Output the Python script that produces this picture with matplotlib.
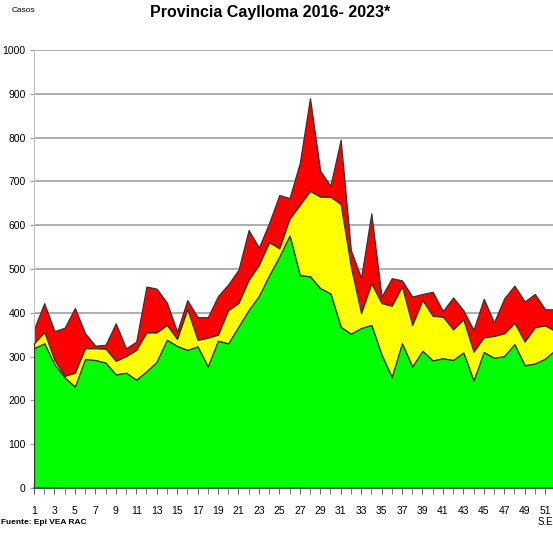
import matplotlib
matplotlib.use("Agg")
import matplotlib.pyplot as plt

# Canal endemico - Provincia Caylloma, semanas epidemiologicas 1-52
weeks = list(range(1, 53))

# limite inferior (zona de exito / verde)
green = [319, 330, 282, 252, 231, 294, 292, 286, 259, 263,
         247, 266, 288, 338, 324, 315, 323, 277, 336, 330,
         368, 406, 438, 485, 528, 576, 486, 483, 456, 444,
         368, 352, 365, 372, 304, 253, 330, 277, 313, 291,
         296, 292, 309, 245, 310, 297, 301, 328, 280, 284,
         295, 315]

# zona de seguridad (amarillo)
yellow = [330, 356, 292, 256, 263, 319, 319, 318, 290, 301,
          315, 355, 355, 372, 340, 408, 338, 343, 350, 406,
          422, 475, 509, 561, 547, 615, 646, 678, 665, 665,
          648, 505, 399, 467, 422, 416, 460, 372, 429, 393,
          391, 362, 385, 311, 344, 347, 353, 377, 334, 367,
          371, 358]

# zona de alarma (rojo)
red = [363, 422, 358, 366, 411, 353, 325, 327, 376, 319,
       334, 460, 455, 423, 357, 429, 390, 390, 438, 465,
       498, 589, 549, 605, 669, 662, 742, 890, 724, 690,
       795, 543, 480, 627, 437, 479, 474, 437, 443, 448,
       404, 435, 406, 361, 432, 378, 433, 462, 426, 443,
       408, 408]

x_labels = [str(w) for w in range(1, 52, 2)]
y_ticks = list(range(0, 1001, 100))

narrow = ["Liberation Sans Narrow", "Liberation Sans", "DejaVu Sans"]

fig = plt.figure(figsize=(5.53, 5.35), dpi=100)
ax = fig.add_axes([34 / 553, 47 / 535, 521.3 / 553, 438 / 535])

for v in y_ticks[1:]:
    ax.axhline(v, color="#a8a8a8", lw=1.3, zorder=0)

ax.fill_between(weeks, yellow, red, facecolor="#ff0000", edgecolor="#333333", lw=0.9, zorder=2)
ax.fill_between(weeks, green, yellow, facecolor="#ffff00", edgecolor="#333333", lw=0.9, zorder=3)
ax.fill_between(weeks, 0, green, facecolor="#00ff00", edgecolor="#333333", lw=0.9, zorder=4)

ax.set_xlim(1, 52)
ax.set_ylim(0, 1000)
ax.set_xticks(list(range(1, 52, 2)))
ax.set_xticklabels(x_labels, family=narrow, fontsize=7.5)
ax.set_xticks(weeks, minor=True)
ax.set_yticks(y_ticks)
ax.set_yticklabels([str(v) for v in y_ticks], family=narrow, fontsize=7.5)
ax.tick_params(axis="x", which="both", length=4, color="#666666", pad=9)
ax.tick_params(axis="y", length=3, color="#999999", pad=3)

for side in ["top", "right"]:
    ax.spines[side].set_visible(False)
ax.spines["left"].set_color("#c0c0c0")
ax.spines["bottom"].set_color("#555555")
ax.spines["bottom"].set_linewidth(1.2)
ax.spines["bottom"].set_zorder(6)

fig.text(270 / 553, 1 - 13 / 535, "Provincia Caylloma 2016- 2023*", ha="center", va="center",
         family=narrow, fontsize=11.5, fontweight="bold")
fig.text(12 / 553, 1 - 11 / 535, "Casos", ha="left", va="center", family=narrow, fontsize=6)
fig.text(1 / 553, 1 - 522 / 535, "Fuente: Epi VEA RAC", ha="left", va="center",
         family=narrow, fontsize=6, fontweight="bold")
fig.text(545 / 553, 1 - 522 / 535, "S.E", ha="center", va="center", family=narrow, fontsize=7)

fig.savefig("out.png", dpi=100)
